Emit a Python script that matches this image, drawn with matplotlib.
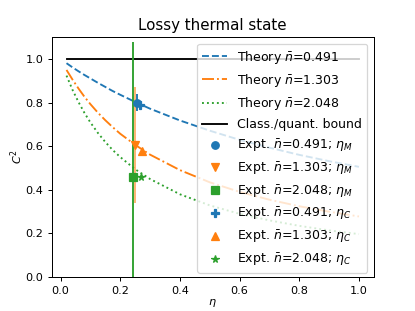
import matplotlib
matplotlib.use('Agg')
import matplotlib.pyplot as plt

# theory curves, values
eta = [0.02, 0.04, 0.06, 0.08, 0.10, 0.125, 0.15, 0.175, 0.20, 0.25, 0.30,
       0.40, 0.50, 0.60, 0.70, 0.80, 0.90, 1.00]
theory_0491 = [0.981, 0.962, 0.944, 0.927, 0.911, 0.891, 0.872, 0.853, 0.836,
               0.803, 0.772, 0.718, 0.671, 0.629, 0.593, 0.560, 0.531, 0.505]
theory_1303 = [0.950, 0.906, 0.865, 0.827, 0.793, 0.754, 0.719, 0.687, 0.657,
               0.606, 0.561, 0.490, 0.434, 0.390, 0.354, 0.324, 0.299, 0.277]
theory_2048 = [0.924, 0.859, 0.803, 0.753, 0.709, 0.661, 0.619, 0.582, 0.550,
               0.494, 0.449, 0.379, 0.328, 0.289, 0.259, 0.234, 0.213, 0.196]
bound_eta = [0.02, 1.0]
bound = [1.0, 1.0]

# experiment
nbar = ['0.491', '1.303', '2.048']
eta_M = [0.257, 0.248, 0.243]
c2_M = [0.80, 0.605, 0.458]
c2_M_err = [0.04, 0.265, 0.62]
eta_C = [0.266, 0.274, 0.270]
c2_C = [0.79, 0.58, 0.458]

colors = ['tab:blue', 'tab:orange', 'tab:green']
styles = ['--', '-.', ':']
marks_M = ['o', 'v', 's']
marks_C = ['P', '^', '*']

fig, ax = plt.subplots(figsize=(4.612, 3.456), dpi=90)

for th, n, c, ls in zip([theory_0491, theory_1303, theory_2048], nbar, colors, styles):
    ax.plot(eta, th, linestyle=ls, color=c, label=r'Theory $\bar{n}$=' + n)
ax.plot(bound_eta, bound, color='black', label='Class./quant. bound')

alphas = [1.0, 0.6, 1.0]
for i in range(3):
    ax.errorbar(eta_M[i], c2_M[i], yerr=c2_M_err[i], fmt='none',
                ecolor=colors[i], alpha=alphas[i])
for i in range(3):
    ax.plot(eta_M[i], c2_M[i], marks_M[i], color=colors[i],
            label=r'Expt. $\bar{n}$=' + nbar[i] + r'; $\eta_M$')
for i in range(3):
    ax.plot(eta_C[i], c2_C[i], marks_C[i], color=colors[i],
            label=r'Expt. $\bar{n}$=' + nbar[i] + r'; $\eta_C$')

ax.set_ylim(0, 1.1)
ax.tick_params(labelsize=9)
ax.set_xlabel(r'$\eta$', fontsize=9, labelpad=1)
ax.set_ylabel(r'$C^2$', fontsize=9, labelpad=0)
ax.set_title('Lossy thermal state')
ax.legend(loc='upper right')

fig.savefig('out.png')
